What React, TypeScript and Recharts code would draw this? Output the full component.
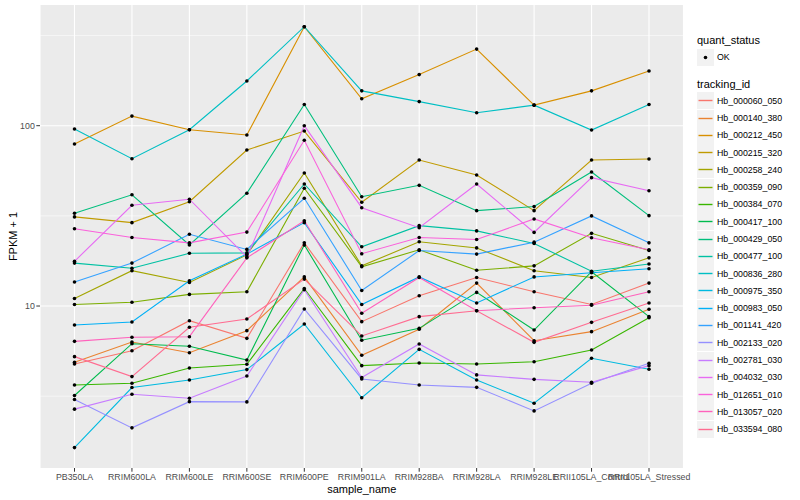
import { CartesianGrid, Label, Line, LineChart, XAxis, YAxis } from "recharts";

const FONT = '"Liberation Sans", Arial, Helvetica, sans-serif';

/** --------- Data (FPKM + 1) --------- */
const samples = [
  "PB350LA",
  "RRIM600LA",
  "RRIM600LE",
  "RRIM600SE",
  "RRIM600PE",
  "RRIM901LA",
  "RRIM928BA",
  "RRIM928LA",
  "RRIM928LE",
  "RRII105LA_Control",
  "RRII105LA_Stressed",
];

const trackingIds = [
  "Hb_000060_050",
  "Hb_000140_380",
  "Hb_000212_450",
  "Hb_000215_320",
  "Hb_000258_240",
  "Hb_000359_090",
  "Hb_000384_070",
  "Hb_000417_100",
  "Hb_000429_050",
  "Hb_000477_100",
  "Hb_000836_280",
  "Hb_000975_350",
  "Hb_000983_050",
  "Hb_001141_420",
  "Hb_002133_020",
  "Hb_002781_030",
  "Hb_004032_030",
  "Hb_012651_010",
  "Hb_013057_020",
  "Hb_033594_080",
];

// ggplot default hue palette, 20 levels
const colors = [
  "#F8766D", "#EA8331", "#D89000", "#C09B00", "#A3A500",
  "#7CAE00", "#39B600", "#00BB4E", "#00BF7D", "#00C1A3",
  "#00BFC4", "#00BAE0", "#00B0F6", "#35A2FF", "#9590FF",
  "#C77CFF", "#E76BF3", "#FA62DB", "#FF62BC", "#FF6C91",
];

const hb000060 = [4.77, 5.65, 8.29, 6.62, 22.4, 8.19, 11.4, 14.4, 12.0, 10.2, 13.4];
const hb000140 = [4.88, 6.32, 5.51, 7.3, 14.5, 5.33, 7.43, 13.4, 6.42, 7.21, 9.59];
const hb000212 = [79.1, 113, 95.0, 88.8, 354, 141, 192, 266, 130, 156, 201];
const hb000215 = [31.2, 29.0, 37.9, 73.3, 93.4, 37.6, 64.5, 53.3, 33.8, 64.5, 65.4];
const hb000258 = [11.0, 15.7, 13.5, 19.2, 54.7, 16.7, 22.7, 21.0, 15.7, 14.4, 18.5];
const hb000359 = [10.2, 10.5, 11.6, 12.0, 45.0, 16.5, 20.5, 15.8, 16.7, 25.3, 20.3];
const hb000384 = [3.65, 3.73, 4.53, 4.75, 12.5, 4.67, 4.83, 4.77, 4.91, 5.7, 8.62];
const hb000417 = [3.19, 6.18, 5.98, 5.02, 21.8, 6.46, 7.52, 11.9, 7.36, 15.5, 8.73];
const hb000429 = [32.7, 41.4, 21.8, 42.2, 131, 40.4, 46.7, 33.8, 35.6, 55.4, 31.7];
const hb000477 = [17.3, 16.2, 19.6, 19.7, 47.5, 21.3, 27.9, 26.1, 22.2, 15.6, 17.1];
const hb000836 = [95.9, 65.6, 95.0, 177, 354, 156, 136, 118, 130, 94.6, 131];
const hb000975 = [1.64, 3.53, 3.89, 4.44, 7.95, 3.1, 5.75, 3.89, 2.89, 5.13, 4.46];
const hb000983 = [7.85, 8.15, 13.8, 19.4, 29.0, 10.2, 14.5, 10.4, 14.5, 15.3, 16.1];
const hb001141 = [13.6, 17.3, 25.0, 20.6, 39.6, 12.2, 20.3, 19.4, 22.6, 31.6, 22.4];
const hb002133 = [3.03, 2.11, 2.95, 2.94, 9.63, 3.94, 3.65, 3.54, 2.62, 3.73, 4.81];
const hb002781 = [2.68, 3.24, 3.08, 4.09, 12.3, 4.01, 6.16, 4.15, 3.92, 3.78, 4.67];
const hb004032 = [17.7, 36.2, 39.1, 18.7, 100, 35.1, 27.2, 47.5, 25.6, 51.5, 43.6];
const hb012651 = [26.8, 24.0, 22.4, 25.7, 83.0, 19.5, 24.0, 23.4, 30.4, 23.9, 20.5];
const hb013057 = [6.37, 6.71, 6.76, 18.5, 29.7, 9.11, 14.4, 9.42, 9.79, 10.1, 12.0];
const hb033594 = [5.24, 4.06, 7.62, 8.48, 14.1, 6.82, 8.73, 9.42, 6.29, 8.12, 10.4];

const seriesValues = [
  hb000060, hb000140, hb000212, hb000215, hb000258,
  hb000359, hb000384, hb000417, hb000429, hb000477,
  hb000836, hb000975, hb000983, hb001141, hb002133,
  hb002781, hb004032, hb012651, hb013057, hb033594,
];

const majorTicks = [10, 100];
const minorTicks = [3.162, 31.62, 316.2];

const data = samples.map((sample, i) => {
  const row: Record<string, string | number> = { sample };
  trackingIds.forEach((id, k) => {
    row[id] = seriesValues[k][i];
  });
  return row;
});

/** --------- Legend (ggplot style, on the right) --------- */
const KeyBox = ({ children }) => (
  <svg width={17} height={17} style={{ display: "block", flex: "none" }}>
    <rect width={17} height={17} fill="#F2F2F2" />
    {children}
  </svg>
);

const GgLegend = () => (
  <div
    style={{
      position: "absolute",
      left: 697,
      top: 0,
      width: 103,
      height: 500,
      fontFamily: FONT,
      color: "#000",
    }}
  >
    <div style={{ position: "absolute", top: 33, height: 14, lineHeight: "14px", fontSize: 11 }}>
      quant_status
    </div>
    <div style={{ position: "absolute", top: 48.5, display: "flex", alignItems: "center" }}>
      <KeyBox>
        <circle cx={8.5} cy={8.5} r={1.8} fill="#000" />
      </KeyBox>
      <span style={{ marginLeft: 3, fontSize: 8.8 }}>OK</span>
    </div>
    <div style={{ position: "absolute", top: 77, height: 14, lineHeight: "14px", fontSize: 11 }}>
      tracking_id
    </div>
    {trackingIds.map((id, i) => (
      <div
        key={id}
        style={{
          position: "absolute",
          top: 100.7 + i * 17.28 - 8.4,
          display: "flex",
          alignItems: "center",
        }}
      >
        <KeyBox>
          <line x1={1.5} x2={15.5} y1={8.5} y2={8.5} stroke={colors[i]} strokeWidth={1.4} />
        </KeyBox>
        <span style={{ marginLeft: 3, fontSize: 8.8, whiteSpace: "nowrap" }}>{id}</span>
      </div>
    ))}
  </div>
);

/** --------- Chart --------- */
export default function App() {
  return (
    <div
      style={{
        position: "absolute",
        left: 0,
        top: 0,
        width: 800,
        height: 500,
        background: "#FFFFFF",
        fontFamily: FONT,
      }}
    >
      <LineChart
        width={800}
        height={500}
        data={data}
        margin={{ top: 5, right: 116.5, bottom: 0, left: 0 }}
      >
        <CartesianGrid
          fill="#EBEBEB"
          stroke="#FFFFFF"
          strokeWidth={0.55}
          vertical={false}
          horizontalValues={minorTicks}
        />
        <CartesianGrid
          stroke="#FFFFFF"
          strokeWidth={1.1}
          horizontalValues={majorTicks}
        />
        <XAxis
          dataKey="sample"
          interval={0}
          height={32}
          padding={{ left: 34.5, right: 34.5 }}
          axisLine={false}
          tickLine={{ stroke: "#333333" }}
          tickSize={3.7}
          tickMargin={2}
          tick={{ fontSize: 8.8, fill: "#4D4D4D", fontFamily: FONT }}
        >
          <Label
            value="sample_name"
            position="insideBottom"
            offset={7}
            style={{ fontSize: 11, fill: "#000", fontFamily: FONT }}
          />
        </XAxis>
        <YAxis
          scale="log"
          domain={[1.264, 467]}
          allowDataOverflow
          ticks={majorTicks}
          width={40}
          axisLine={false}
          tickLine={{ stroke: "#333333" }}
          tickSize={3.7}
          tickMargin={1.5}
          tick={{ fontSize: 8.8, fill: "#4D4D4D", fontFamily: FONT }}
        >
          <Label
            value="FPKM + 1"
            angle={-90}
            position="insideLeft"
            offset={13}
            style={{ fontSize: 11, fill: "#000", fontFamily: FONT, textAnchor: "middle" }}
          />
        </YAxis>

        {/* lines first, then every point on top, as ggplot does */}
        {trackingIds.map((id, i) => (
          <Line
            key={id}
            dataKey={id}
            type="linear"
            stroke={colors[i]}
            strokeWidth={1.1}
            dot={false}
            activeDot={false}
            isAnimationActive={false}
          />
        ))}
        {trackingIds.map((id) => (
          <Line
            key={`${id}-pts`}
            dataKey={id}
            type="linear"
            stroke="none"
            dot={{ r: 1.8, fill: "#000000", stroke: "none" }}
            activeDot={false}
            isAnimationActive={false}
          />
        ))}
      </LineChart>
      <GgLegend />
    </div>
  );
}
